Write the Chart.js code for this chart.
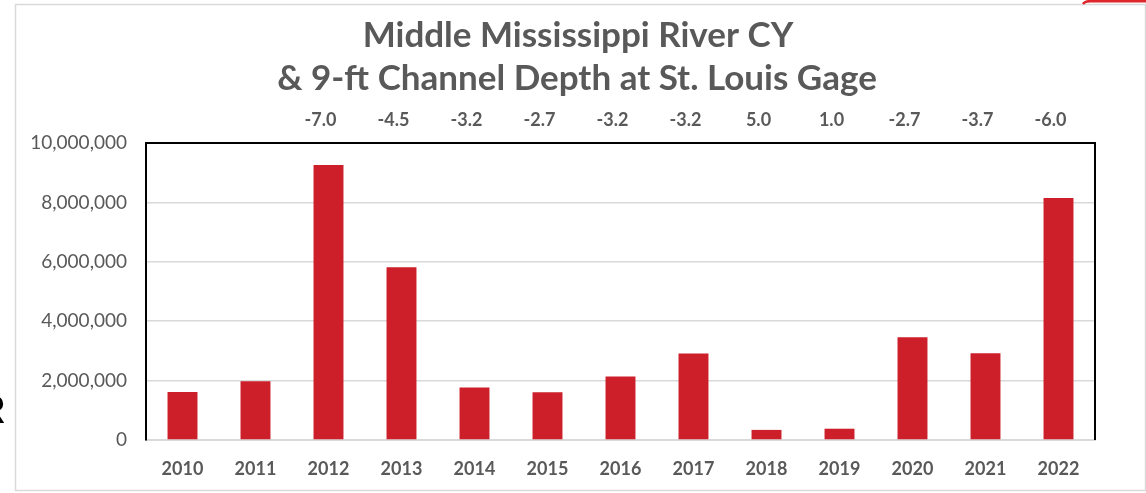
<!DOCTYPE html>
<html>
<head>
<meta charset="utf-8">
<script src="https://cdn.jsdelivr.net/npm/chart.js@4.4.1/dist/chart.umd.min.js"></script>
<style>
  html, body { margin: 0; padding: 0; background: #fff; }
  #wrap { position: relative; width: 1146px; height: 493px; }
  canvas { display: block; }
</style>
</head>
<body>
<div id="wrap"><canvas id="c" width="1146" height="493"></canvas></div>
<script>
// ---- Data ----
const years = ['2010','2011','2012','2013','2014','2015','2016','2017','2018','2019','2020','2021','2022'];
const dredgedCY = [1620000, 1980000, 9260000, 5820000, 1770000, 1610000, 2140000, 2910000, 340000, 380000, 3460000, 2920000, 8150000];
const depthYears = ['2012','2013','2014','2015','2016','2017','2018','2019','2020','2021','2022'];
const depthValues = [-7.0, -4.5, -3.2, -2.7, -3.2, -3.2, 5.0, 1.0, -2.7, -3.7, -6.0];
const yTicks = [0, 2000000, 4000000, 6000000, 8000000, 10000000];
const titleLines = ['Middle Mississippi River CY', '& 9-ft Channel Depth at St. Louis Gage'];

const TEXT = '#595959';
const FONT = 'Lato, "Open Sans", sans-serif';

const decorPlugin = {
  id: 'decor',
  beforeDraw(chart) {
    const ctx = chart.ctx;
    ctx.save();
    // outer frame
    ctx.strokeStyle = '#d9d9d9';
    ctx.lineWidth = 1.5;
    ctx.strokeRect(15.5, 4.5, 1130, 486);
    // red mark top-right
    ctx.strokeStyle = '#e0262d';
    ctx.lineWidth = 2.5;
    ctx.beginPath();
    ctx.moveTo(1083, 4);
    ctx.quadraticCurveTo(1085, 1.2, 1090, 1.2);
    ctx.lineTo(1146, 1.2);
    ctx.stroke();
    // partial "R" at left edge
    ctx.fillStyle = '#000';
    ctx.font = '38px "Liberation Sans", sans-serif';
    ctx.textAlign = 'right';
    ctx.textBaseline = 'alphabetic';
    ctx.fillText('R', 6, 423);
    ctx.restore();
  },
  afterDraw(chart) {
    const ctx = chart.ctx;
    const a = chart.chartArea;
    const xs = chart.scales.x;
    ctx.save();
    // plot box top and right borders
    ctx.strokeStyle = '#000';
    ctx.lineWidth = 2;
    ctx.beginPath();
    ctx.moveTo(a.left, a.top);
    ctx.lineTo(a.right, a.top);
    ctx.lineTo(a.right, a.bottom);
    ctx.stroke();
    // title
    ctx.fillStyle = TEXT;
    ctx.textAlign = 'center';
    ctx.textBaseline = 'alphabetic';
    ctx.font = 'bold 35px ' + FONT;
    ctx.fillText(titleLines[0], 578, 47);
    ctx.fillText(titleLines[1], 577, 90);
    // depth annotations
    ctx.font = 'bold 18px ' + FONT;
    depthYears.forEach((yr, i) => {
      const idx = years.indexOf(yr);
      const x = xs.getPixelForValue(idx) - 8;
      ctx.fillText(depthValues[i].toFixed(1), x, 126);
    });
    ctx.restore();
  }
};

new Chart(document.getElementById('c'), {
  type: 'bar',
  data: {
    labels: years,
    datasets: [{
      data: dredgedCY,
      backgroundColor: '#cc1f29',
      borderWidth: 0,
      barPercentage: 0.41,
      categoryPercentage: 1.0
    }]
  },
  options: {
    responsive: false,
    animation: false,
    layout: { padding: { left: 0, right: 51, top: 143, bottom: 10 } },
    plugins: {
      legend: { display: false },
      title: { display: false },
      tooltip: { enabled: false }
    },
    scales: {
      x: {
        grid: { display: false, drawTicks: false },
        border: { color: '#d9d9d9', width: 2 },
        ticks: {
          color: TEXT,
          font: { family: FONT, size: 18, weight: 'bold' },
          padding: 18,
          maxRotation: 0
        },
        afterFit(scale) { scale.height = 493 - 440 - 10; }
      },
      y: {
        min: 0,
        max: 10000000,
        afterBuildTicks(scale) { scale.ticks = yTicks.map(v => ({ value: v })); },
        grid: { color: '#d9d9d9', lineWidth: 1.5, drawTicks: false },
        border: { color: '#000', width: 2 },
        ticks: {
          color: TEXT,
          font: { family: FONT, size: 19 },
          padding: 19,
          callback: v => v.toLocaleString('en-US')
        },
        afterFit(scale) { scale.width = 146; }
      }
    }
  },
  plugins: [decorPlugin]
});
</script>
</body>
</html>
